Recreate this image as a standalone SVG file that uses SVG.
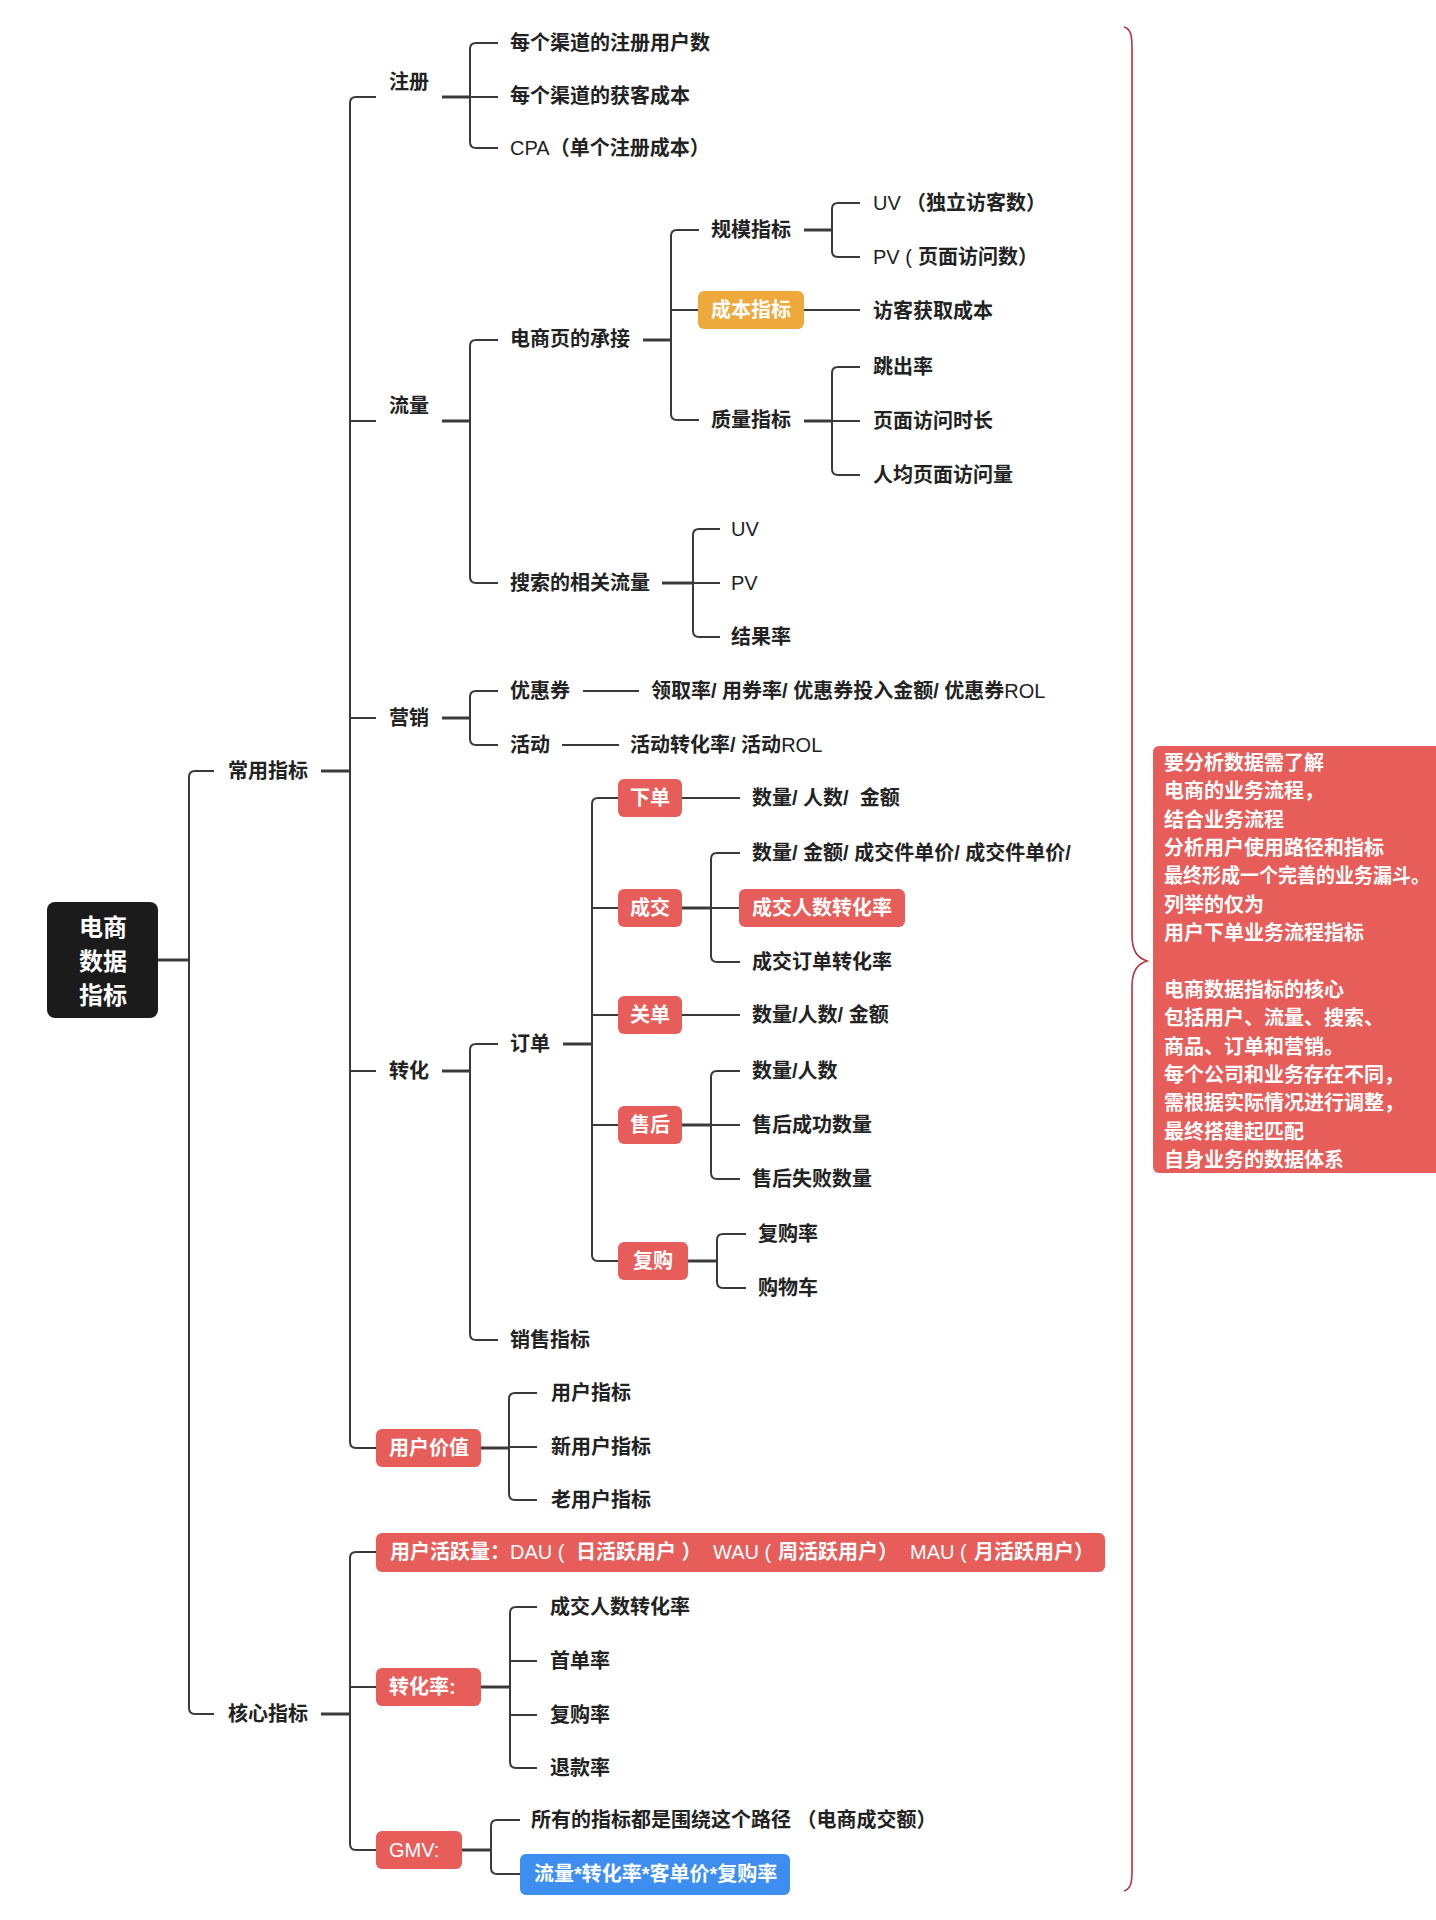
<svg xmlns="http://www.w3.org/2000/svg" width="1436" height="1920" viewBox="0 0 1436 1920">
<style>
.t{font-family:"Liberation Sans","Noto Sans CJK SC",sans-serif;font-size:20px;font-weight:bold;fill:#222;dominant-baseline:central}
.w{fill:#fff}
.n{font-weight:normal}
.m{text-anchor:middle}
.c{fill:none;stroke:#3a3a3a;stroke-width:2}
.s{stroke-width:3}
.red{fill:#E75D5A}
</style>
<rect width="1436" height="1920" fill="#fff"/>
<g id="connectors">
<path class="c s" d="M158,960 H189"/>
<path class="c" d="M214,771 H195 Q189,771 189,777 V1708 Q189,1714 195,1714 H214"/>
<path class="c s" d="M321,771 H350"/>
<path class="c" d="M376,97 H356 Q350,97 350,103 V1442 Q350,1448 356,1448 H376 M350,421 H376 M350,718 H376 M350,1071 H376"/>
<path class="c s" d="M442,97 H470"/>
<path class="c" d="M498,43 H476 Q470,43 470,49 V142 Q470,148 476,148 H498 M470,97 H498"/>
<path class="c s" d="M442,421 H470"/>
<path class="c" d="M498,340 H476 Q470,340 470,346 V577 Q470,583 476,583 H498"/>
<path class="c s" d="M643,340 H671"/>
<path class="c" d="M699,230 H677 Q671,230 671,236 V414 Q671,420 677,420 H699 M671,310 H698"/>
<path class="c s" d="M804,230 H832"/>
<path class="c" d="M860,203 H838 Q832,203 832,209 V251 Q832,257 838,257 H860"/>
<path class="c" d="M804,310 H860"/>
<path class="c s" d="M804,421 H832"/>
<path class="c" d="M860,367 H838 Q832,367 832,373 V469 Q832,475 838,475 H860 M832,421 H860"/>
<path class="c s" d="M662,583 H693"/>
<path class="c" d="M720,529 H699 Q693,529 693,535 V631 Q693,637 699,637 H720 M693,583 H720"/>
<path class="c s" d="M442,718 H470"/>
<path class="c" d="M498,691 H476 Q470,691 470,697 V739 Q470,745 476,745 H498"/>
<path class="c" d="M583,691 H639 M562,745 H619"/>
<path class="c s" d="M442,1071 H470"/>
<path class="c" d="M498,1044 H476 Q470,1044 470,1050 V1334 Q470,1340 476,1340 H498"/>
<path class="c s" d="M563,1044 H592"/>
<path class="c" d="M618,798 H598 Q592,798 592,804 V1255 Q592,1261 598,1261 H618 M592,908 H618 M592,1015 H618 M592,1125 H618"/>
<path class="c" d="M682,798 H740 M682,1015 H740"/>
<path class="c s" d="M682,908 H711"/>
<path class="c" d="M740,853 H717 Q711,853 711,859 V956 Q711,962 717,962 H740 M711,908 H739"/>
<path class="c s" d="M682,1125 H711"/>
<path class="c" d="M740,1071 H717 Q711,1071 711,1077 V1173 Q711,1179 717,1179 H740 M711,1125 H740"/>
<path class="c s" d="M688,1261 H717"/>
<path class="c" d="M746,1234 H723 Q717,1234 717,1240 V1282 Q717,1288 723,1288 H746"/>
<path class="c s" d="M481,1448 H509"/>
<path class="c" d="M537,1393 H515 Q509,1393 509,1399 V1494 Q509,1500 515,1500 H537 M509,1447 H537"/>
<path class="c s" d="M321,1714 H350"/>
<path class="c" d="M376,1552 H356 Q350,1552 350,1558 V1844 Q350,1850 356,1850 H376 M350,1687 H376"/>
<path class="c s" d="M481,1687 H510"/>
<path class="c" d="M537,1607 H516 Q510,1607 510,1613 V1762 Q510,1768 516,1768 H537 M510,1661 H537 M510,1715 H537"/>
<path class="c s" d="M462,1850 H491"/>
<path class="c" d="M520,1820 H497 Q491,1820 491,1826 V1868 Q491,1874 497,1874 H520"/>
<path d="M1124,27 C1131,29 1132,36 1132,48 L1132,935 C1132,952 1138,958 1147,961 C1138,964 1132,970 1132,987 L1132,1872 C1132,1884 1130,1889 1124,1891" fill="none" stroke="#B3343A" stroke-width="1.6"/>
</g>
<g id="root">
<rect x="47" y="902" width="111" height="116" rx="8" fill="#1b1b1b"/>
<text class="t w m" x="103" y="927" style="font-size:24px">电商</text>
<text class="t w m" x="103" y="961" style="font-size:24px">数据</text>
<text class="t w m" x="103" y="995" style="font-size:24px">指标</text>
</g>
<g id="changyong"><text class="t" x="228" y="771">常用指标</text></g>
<g id="hexin"><text class="t" x="228" y="1714">核心指标</text></g>
<g id="zhuce"><text class="t" x="389" y="82">注册</text></g>
<g id="zc1"><text class="t" x="510" y="43">每个渠道的注册用户数</text></g>
<g id="zc2"><text class="t" x="510" y="96">每个渠道的获客成本</text></g>
<g id="zc3"><text class="t" x="510" y="148"><tspan class="n">CPA</tspan>（单个注册成本）</text></g>
<g id="liuliang"><text class="t" x="389" y="406">流量</text></g>
<g id="chengjie"><text class="t" x="510" y="339">电商页的承接</text></g>
<g id="guimo"><text class="t" x="711" y="230">规模指标</text></g>
<g id="uv1"><text class="t" x="873" y="203"><tspan class="n">UV</tspan><tspan x="906">（独立访客数）</tspan></text></g>
<g id="pv1"><text class="t" x="873" y="257"><tspan class="n">PV (</tspan><tspan x="918">页面访问数）</tspan></text></g>
<g id="chengben"><rect x="698" y="291" width="106" height="38" rx="6" fill="#EDA93C"/><text class="t w m" x="751" y="310">成本指标</text></g>
<g id="fkcb"><text class="t" x="873" y="311">访客获取成本</text></g>
<g id="zhiliang"><text class="t" x="711" y="420">质量指标</text></g>
<g id="tcl"><text class="t" x="873" y="367">跳出率</text></g>
<g id="fwsc"><text class="t" x="873" y="421">页面访问时长</text></g>
<g id="rjfw"><text class="t" x="873" y="475">人均页面访问量</text></g>
<g id="sousuo"><text class="t" x="510" y="583">搜索的相关流量</text></g>
<g id="uv2"><text class="t n" x="731" y="529">UV</text></g>
<g id="pv2"><text class="t n" x="731" y="583">PV</text></g>
<g id="jgl"><text class="t" x="731" y="637">结果率</text></g>
<g id="yingxiao"><text class="t" x="389" y="718">营销</text></g>
<g id="yhq"><text class="t" x="510" y="691">优惠券</text></g>
<g id="yhq1"><text class="t" x="651" y="691">领取率/ 用券率/ 优惠券投入金额/ 优惠券<tspan class="n">ROL</tspan></text></g>
<g id="hd"><text class="t" x="510" y="745">活动</text></g>
<g id="hd1"><text class="t" x="630" y="745">活动转化率/ 活动<tspan class="n">ROL</tspan></text></g>
<g id="zhuanhua"><text class="t" x="389" y="1071">转化</text></g>
<g id="dingdan"><text class="t" x="510" y="1044">订单</text></g>
<g id="xiadan"><rect class="red" x="618" y="779" width="64" height="38" rx="6"/><text class="t w m" x="650" y="798">下单</text></g>
<g id="xd1"><text class="t" x="752" y="798" xml:space="preserve">数量/ 人数/  金额</text></g>
<g id="chengjiao"><rect class="red" x="618" y="889" width="64" height="38" rx="6"/><text class="t w m" x="650" y="908">成交</text></g>
<g id="cj1"><text class="t" x="752" y="853">数量/ 金额/ 成交件单价/ 成交件单价/</text></g>
<g id="cj2"><rect class="red" x="739" y="889" width="166" height="38" rx="6"/><text class="t w" x="752" y="908">成交人数转化率</text></g>
<g id="cj3"><text class="t" x="752" y="962">成交订单转化率</text></g>
<g id="guandan"><rect class="red" x="618" y="996" width="64" height="38" rx="6"/><text class="t w m" x="650" y="1015">关单</text></g>
<g id="gd1"><text class="t" x="752" y="1015">数量/人数/ 金额</text></g>
<g id="shouhou"><rect class="red" x="618" y="1106" width="64" height="38" rx="6"/><text class="t w m" x="650" y="1125">售后</text></g>
<g id="sh1"><text class="t" x="752" y="1071">数量/人数</text></g>
<g id="sh2"><text class="t" x="752" y="1125">售后成功数量</text></g>
<g id="sh3"><text class="t" x="752" y="1179">售后失败数量</text></g>
<g id="fugou"><rect class="red" x="618" y="1242" width="70" height="38" rx="6"/><text class="t w m" x="653" y="1261">复购</text></g>
<g id="fg1"><text class="t" x="758" y="1234">复购率</text></g>
<g id="fg2"><text class="t" x="758" y="1288">购物车</text></g>
<g id="xiaoshou"><text class="t" x="510" y="1340">销售指标</text></g>
<g id="yhjz"><rect class="red" x="376" y="1429" width="105" height="38" rx="6"/><text class="t w m" x="429" y="1448">用户价值</text></g>
<g id="yh1"><text class="t" x="551" y="1393">用户指标</text></g>
<g id="yh2"><text class="t" x="551" y="1447">新用户指标</text></g>
<g id="yh3"><text class="t" x="551" y="1500">老用户指标</text></g>
<g id="huoyue"><rect class="red" x="376" y="1533" width="729" height="39" rx="6"/><text class="t w" x="390" y="1552">用户活跃量：<tspan class="n" x="510">DAU (</tspan><tspan x="576">日活跃用户 ）</tspan><tspan class="n" x="713">WAU (</tspan><tspan x="778">周活跃用户）</tspan><tspan class="n" x="910">MAU (</tspan><tspan x="974">月活跃用户）</tspan></text></g>
<g id="zhl"><rect class="red" x="376" y="1668" width="105" height="38" rx="6"/><text class="t w" x="389" y="1687">转化率:</text></g>
<g id="zhl1"><text class="t" x="550" y="1607">成交人数转化率</text></g>
<g id="zhl2"><text class="t" x="550" y="1661">首单率</text></g>
<g id="zhl3"><text class="t" x="550" y="1715">复购率</text></g>
<g id="zhl4"><text class="t" x="550" y="1768">退款率</text></g>
<g id="gmv"><rect class="red" x="376" y="1831" width="86" height="38" rx="6"/><text class="t w n" x="389" y="1850">GMV:</text></g>
<g id="gmv1"><text class="t" x="531" y="1820">所有的指标都是围绕这个路径 （电商成交额）</text></g>
<g id="gmv2"><rect x="520" y="1854" width="270" height="41" rx="6" fill="#3D8EF0"/><text class="t w" x="534" y="1874">流量*转化率*客单价*复购率</text></g>
<g id="note">
<rect class="red" x="1153" y="746" width="300" height="427" rx="6"/>
<text class="t w" x="1164" y="763">要分析数据需了解</text>
<text class="t w" x="1164" y="791">电商的业务流程，</text>
<text class="t w" x="1164" y="820">结合业务流程</text>
<text class="t w" x="1164" y="848">分析用户使用路径和指标</text>
<text class="t w" x="1164" y="876" textLength="266" lengthAdjust="spacingAndGlyphs">最终形成一个完善的业务漏斗。</text>
<text class="t w" x="1164" y="905">列举的仅为</text>
<text class="t w" x="1164" y="933">用户下单业务流程指标</text>
<text class="t w" x="1164" y="990">电商数据指标的核心</text>
<text class="t w" x="1164" y="1018">包括用户、流量、搜索、</text>
<text class="t w" x="1164" y="1047">商品、订单和营销。</text>
<text class="t w" x="1164" y="1075">每个公司和业务存在不同，</text>
<text class="t w" x="1164" y="1103">需根据实际情况进行调整，</text>
<text class="t w" x="1164" y="1132">最终搭建起匹配</text>
<text class="t w" x="1164" y="1160">自身业务的数据体系</text>
</g>
</svg>
